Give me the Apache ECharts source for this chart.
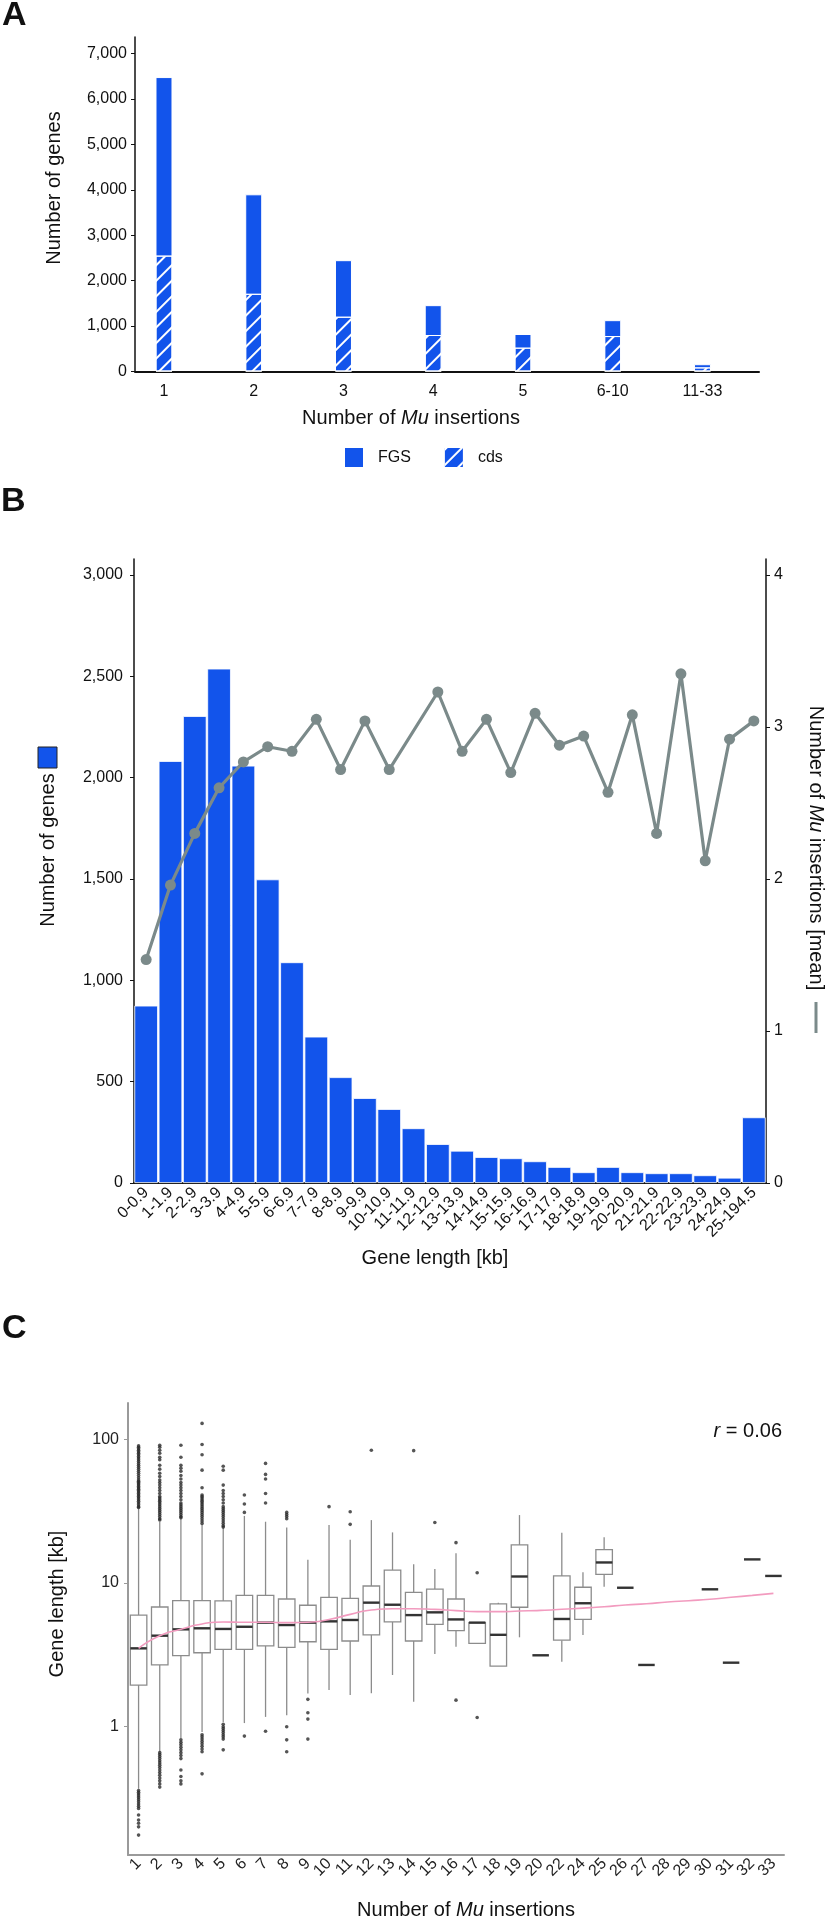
<!DOCTYPE html>
<html><head><meta charset="utf-8">
<script src="https://cdn.jsdelivr.net/npm/echarts@6/dist/echarts.min.js"></script>
<style>html,body{margin:0;padding:0;background:#fff}#c{width:826px;height:1923px}</style>
</head><body><div id="c"></div>
<script>
const FONT = 'Liberation Sans, Arial, Helvetica, sans-serif';
const BLUE = '#1254eb';
const GREY = '#7b8a8a';
const BOXGREY = '#8c8c8c';

// ---------- Panel A ----------
const aCategories = ['1', '2', '3', '4', '5', '6-10', '11-33'];
const aFGS = [6480, 3900, 2450, 1460, 825, 1130, 160];
const aCDS = [2550, 1710, 1205, 803, 524, 780, 90];
const aYTicks = [0, 1000, 2000, 3000, 4000, 5000, 6000, 7000];

// ---------- Panel B ----------
const bCategories = ['0-0.9','1-1.9','2-2.9','3-3.9','4-4.9','5-5.9','6-6.9','7-7.9','8-8.9','9-9.9',
  '10-10.9','11-11.9','12-12.9','13-13.9','14-14.9','15-15.9','16-16.9','17-17.9','18-18.9','19-19.9',
  '20-20.9','21-21.9','22-22.9','23-23.9','24-24.9','25-194.5'];
const bGenes = [875, 2082, 2304, 2538, 2059, 1498, 1089, 722, 522, 419, 365, 270, 192, 159, 128, 122, 107, 79, 53, 79, 53, 48, 48, 38, 26, 324];
const bMeanMu = [1.47, 1.96, 2.30, 2.60, 2.77, 2.87, 2.84, 3.05, 2.72, 3.04, 2.72, null, 3.23, 2.84, 3.05, 2.70, 3.09, 2.88, 2.94, 2.57, 3.08, 2.30, 3.35, 2.12, 2.92, 3.04];
const bLeftTicks = [0, 500, 1000, 1500, 2000, 2500, 3000];
const bRightTicks = [0, 1, 2, 3, 4];

// ---------- Panel C ----------
const cCategories = ['1','2','3','4','5','6','7','8','9','10','11','12','13','14','15','16','17','18','19','20',
  '22','24','25','26','27','28','29','30','31','32','33'];
const cMin    = [0.37, 0.67, 0.83, 0.92, 1.08, 1.06, 1.17, 1.20, 1.70, 1.80, 1.66, 1.71, 2.29, 1.49, 3.20, 3.60, 3.80, 2.64, 4.19, 3.14, 2.83, 4.35, 9.43, 9.27, 2.69, null, null, 9.04, 2.79, 14.6, 11.2];
const cQ1     = [1.95, 2.69, 3.12, 3.27, 3.45, 3.45, 3.65, 3.57, 3.90, 3.45, 3.95, 4.35, 5.36, 3.95, 5.16, 4.66, 3.80, 2.64, 6.78, 3.14, 4.00, 5.58, 11.5, 9.27, 2.69, null, null, 9.04, 2.79, 14.6, 11.2];
const cMedian = [3.51, 4.30, 4.76, 4.84, 4.79, 4.96, 5.30, 5.10, 5.30, 5.41, 5.53, 7.30, 7.06, 5.98, 6.25, 5.58, 5.30, 4.36, 11.1, 3.14, 5.62, 7.23, 13.9, 9.27, 2.69, null, null, 9.04, 2.79, 14.6, 11.2];
const cQ3     = [5.98, 6.81, 7.53, 7.53, 7.50, 8.20, 8.20, 7.74, 7.00, 7.95, 7.82, 9.53, 12.3, 8.61, 9.08, 7.74, 5.30, 7.15, 18.4, 3.14, 11.2, 9.34, 17.1, 9.27, 2.69, null, null, 9.04, 2.79, 14.6, 11.2];
const cMax    = [33.0, 26.7, 28.2, 25.5, 24.0, 29.3, 26.7, 24.3, 14.5, 25.3, 20.0, 27.4, 22.5, 13.5, 12.5, 16.1, 5.30, 7.30, 29.7, 3.14, 22.4, 11.9, 20.8, 9.27, 2.69, null, null, 9.04, 2.79, 14.6, 11.2];
const cOutliers = [
  [33.5,34,35,36,37,38,39,40,41,42,43,44,45,46,47,48,49,50,51,52,54,56,58,60,62,64,66,68,70,72,74,76,78,80,82,84,86,88,90,
   0.36,0.35,0.34,0.33,0.32,0.31,0.30,0.29,0.28,0.27,0.243,0.224,0.213,0.201,0.176],
  [27.5,28,29,30,31,32,33,34,35,36,37,38,39,40,42,44,46,48,50,52,55,58,62,66,72,75,80,84,88,91,
   0.66,0.64,0.62,0.60,0.58,0.56,0.54,0.52,0.50,0.48,0.46,0.44,0.42,0.40,0.38],
  [28.5,29,30,31,32,33,34,35,36,38,40,42,44,46,48,50,53,56,60,63,66,75,91,
   0.81,0.78,0.75,0.72,0.69,0.66,0.63,0.60,0.50,0.45,0.42,0.40],
  [26,27,28,29,30,31,32,33,34,35,36,37,38,39,40,41,46,61,78,92,129,
   0.88,0.85,0.82,0.79,0.76,0.73,0.70,0.67,0.47],
  [24.5,25,26,27,28,29,30,31,32,33,34,36,38,40,42,44,48,61,65,
   1.04,1.0,0.97,0.94,0.91,0.88,0.85,0.82,0.69],
  [31,35.5,41,0.86],
  [36,42,53,57,68,0.93],
  [28,29,30,31,1.0,0.81,0.67],
  [1.55,1.25,1.13,0.82],
  [34],
  [25.6,31.3],
  [84],
  [],
  [83.4],
  [26.4],
  [19.1,1.53],
  [11.8,1.16],
  [],[],[],[],[],[],[],[],[],[],[],[],[],[]
];
const cTrend = [3.51, 4.30, 4.76, 5.19, 5.36, 5.33, 5.33, 5.30, 5.33, 5.58, 6.05, 6.49, 6.62, 6.62, 6.55, 6.42, 6.32, 6.32, 6.38, 6.45, 6.56, 6.69, 6.84, 7.03, 7.17, 7.37, 7.53, 7.70, 7.95, 8.20, 8.47];
const cYTicks = [1, 10, 100];

// ---------- build ----------
const lg = v => Math.log10(v);
const cBoxData = [];
cCategories.forEach((c, i) => {
  if (cMedian[i] == null) return;
  cBoxData.push([i, lg(cMin[i]), lg(cQ1[i]), lg(cMedian[i]), lg(cQ3[i]), lg(cMax[i])]);
});
const cOutData = [];
cOutliers.forEach((arr, i) => arr.forEach(v => cOutData.push([i, lg(v)])));

function renderBox(params, api) {
  const x = api.value(0);
  const pMin = api.coord([x, api.value(1)]);
  const pQ1 = api.coord([x, api.value(2)]);
  const pMed = api.coord([x, api.value(3)]);
  const pQ3 = api.coord([x, api.value(4)]);
  const pMax = api.coord([x, api.value(5)]);
  const half = api.size([1, 0])[0] * 0.39;
  const cx = pMed[0];
  const st = { stroke: BOXGREY, lineWidth: 1.3, fill: null };
  const ch = [];
  if (pMax[1] < pQ3[1] - 0.5) ch.push({ type: 'line', shape: { x1: cx, y1: pQ3[1], x2: cx, y2: pMax[1] }, style: st });
  if (pMin[1] > pQ1[1] + 0.5) ch.push({ type: 'line', shape: { x1: cx, y1: pQ1[1], x2: cx, y2: pMin[1] }, style: st });
  if (pQ1[1] - pQ3[1] > 0.5) ch.push({ type: 'rect', shape: { x: cx - half, y: pQ3[1], width: 2 * half, height: pQ1[1] - pQ3[1] }, style: { fill: '#fff', stroke: BOXGREY, lineWidth: 1.3 } });
  ch.push({ type: 'line', shape: { x1: cx - half, y1: pMed[1], x2: cx + half, y2: pMed[1] }, style: { stroke: '#333', lineWidth: 2.4 } });
  return { type: 'group', children: ch };
}

const tick = { fontFamily: FONT, color: '#111', fontSize: 16 };
const fmtThousands = v => Number(v).toLocaleString('en-US');
const titleRich = { n: { fontFamily: FONT, fontSize: 20, color: '#111' }, i: { fontFamily: FONT, fontSize: 20, fontStyle: 'italic', color: '#111' } };

function txt(x, y, text, opts) {
  opts = opts || {};
  return {
    type: 'text', x: x, y: y, rotation: opts.rotation || 0, silent: true,
    style: Object.assign({
      text: text, fill: '#111', fontFamily: FONT, fontSize: opts.size || 20,
      fontWeight: opts.weight || 'normal',
      textAlign: opts.align || 'center', textVerticalAlign: 'middle',
      rich: titleRich
    }, opts.style || {})
  };
}

const chart = echarts.init(document.getElementById('c'), null, { renderer: 'canvas' });
const option = {
  animation: false,
  backgroundColor: '#fff',
  textStyle: { fontFamily: FONT },
  grid: [
    { left: 135, top: 37, width: 624, height: 334.5, outerBoundsMode: 'none', containLabel: false },
    { left: 134, top: 559, width: 632, height: 624, outerBoundsMode: 'none', containLabel: false },
    { left: 128, top: 1403, width: 656, height: 452, outerBoundsMode: 'none', containLabel: false }
  ],
  legend: {
    left: 340, top: 443, itemWidth: 18, itemHeight: 19, itemGap: 34, icon: 'rect',
    data: ['FGS', 'cds'],
    itemStyle: { borderWidth: 0 },
    textStyle: { fontFamily: FONT, fontSize: 16, color: '#111', padding: [0, 0, 0, 10] }
  },
  xAxis: [
    { gridIndex: 0, type: 'value', min: 0.677, max: 7.63,
      axisLine: { show: true, onZero: false, lineStyle: { color: '#111', width: 2 } },
      axisTick: { show: false }, splitLine: { show: false },
      axisLabel: Object.assign({ margin: 12, customValues: aCategories.map((c, i) => i + 1), formatter: v => aCategories[Math.round(v) - 1] }, tick) },
    { gridIndex: 1, type: 'category', data: bCategories, boundaryGap: true,
      axisLine: { show: true, onZero: false, lineStyle: { color: '#111', width: 2 } },
      axisTick: { show: false }, splitLine: { show: false },
      axisLabel: Object.assign({}, tick, { fontSize: 16, rotate: 45, interval: 0, margin: 7 }) },
    { gridIndex: 2, type: 'category', data: cCategories, boundaryGap: true,
      axisLine: { show: true, onZero: false, lineStyle: { color: '#9a9a9a', width: 2 } },
      axisTick: { show: false }, splitLine: { show: false },
      axisLabel: Object.assign({}, tick, { fontSize: 16, rotate: 45, interval: 0, margin: 6, color: '#222' }) }
  ],
  yAxis: [
    { gridIndex: 0, type: 'value', min: 0, max: 7362,
      axisLine: { show: true, lineStyle: { color: '#111', width: 1.5 } },
      axisTick: { show: true, length: 4, customValues: aYTicks, lineStyle: { color: '#111' } },
      splitLine: { show: false },
      axisLabel: Object.assign({ margin: 8, customValues: aYTicks, formatter: fmtThousands }, tick) },
    { gridIndex: 1, type: 'value', min: 0, max: 3079, position: 'left',
      axisLine: { show: true, lineStyle: { color: '#111', width: 1.5 } },
      axisTick: { show: true, length: 4, customValues: bLeftTicks, lineStyle: { color: '#111' } },
      splitLine: { show: false },
      axisLabel: Object.assign({ margin: 11, customValues: bLeftTicks, formatter: fmtThousands }, tick) },
    { gridIndex: 1, type: 'value', min: 0, max: 4.105, position: 'right',
      axisLine: { show: true, lineStyle: { color: '#111', width: 1.5 } },
      axisTick: { show: true, length: 4, customValues: bRightTicks, lineStyle: { color: '#111' } },
      splitLine: { show: false },
      axisLabel: Object.assign({ margin: 8, customValues: bRightTicks }, tick) },
    { gridIndex: 2, type: 'value', min: -0.8928, max: 2.2527,
      axisLine: { show: true, lineStyle: { color: '#9a9a9a', width: 2 } },
      axisTick: { show: true, length: 4, customValues: cYTicks.map(lg), lineStyle: { color: '#9a9a9a' } },
      splitLine: { show: false },
      axisLabel: Object.assign({ margin: 9, customValues: cYTicks.map(lg), formatter: v => String(Math.round(Math.pow(10, v))) }, tick, { color: '#222' }) }
  ],
  series: [
    { name: 'FGS', type: 'bar', xAxisIndex: 0, yAxisIndex: 0, barWidth: 17, barGap: '-100%',
      data: aFGS.map((v, i) => [i + 1, v]),
      itemStyle: { color: BLUE, borderColor: '#fff', borderWidth: 1 } },
    { name: 'cds', type: 'bar', xAxisIndex: 0, yAxisIndex: 0, barWidth: 17, barGap: '-100%',
      data: aCDS.map((v, i) => [i + 1, v]),
      itemStyle: { color: BLUE, borderColor: '#fff', borderWidth: 1,
        decal: { symbol: 'rect', symbolSize: 1, dashArrayX: [1, 0], dashArrayY: [2, 9], rotation: -Math.PI / 4, color: '#ffffff' } } },
    { type: 'bar', xAxisIndex: 1, yAxisIndex: 1, data: bGenes, barCategoryGap: '3%',
      itemStyle: { color: BLUE, borderColor: '#fff', borderWidth: 0.8 } },
    { type: 'line', xAxisIndex: 1, yAxisIndex: 2, data: bMeanMu, connectNulls: true,
      symbol: 'circle', symbolSize: 11, z: 5,
      lineStyle: { color: GREY, width: 3.2 }, itemStyle: { color: GREY } },
    { type: 'custom', xAxisIndex: 2, yAxisIndex: 3, data: cBoxData, renderItem: renderBox,
      encode: { x: 0, y: [1, 2, 3, 4, 5] }, z: 2 },
    { type: 'line', xAxisIndex: 2, yAxisIndex: 3, data: cTrend.map(lg), smooth: 0.6, showSymbol: false, symbol: 'none',
      lineStyle: { color: '#f29bbf', width: 1.6 }, z: 4 },
    { type: 'scatter', xAxisIndex: 2, yAxisIndex: 3, data: cOutData, symbolSize: 3.6,
      itemStyle: { color: '#2a2a2a' }, z: 5 }
  ],
  graphic: [
    txt(2, 16, 'A', { size: 34, weight: 'bold', align: 'left' }),
    txt(1, 502, 'B', { size: 34, weight: 'bold', align: 'left' }),
    txt(2, 1329, 'C', { size: 34, weight: 'bold', align: 'left' }),
    txt(54, 188, 'Number of genes', { rotation: Math.PI / 2 }),
    txt(411, 418, '{n|Number of }{i|Mu}{n| insertions}'),
    txt(48, 850, 'Number of genes', { rotation: Math.PI / 2 }),
    { type: 'rect', silent: true, shape: { x: 38, y: 747, width: 19, height: 21 }, style: { fill: BLUE, stroke: '#222', lineWidth: 1 } },
    txt(816, 848, '{n|Number of }{i|Mu}{n| insertions [mean]}', { rotation: -Math.PI / 2 }),
    { type: 'line', silent: true, shape: { x1: 816, y1: 1002, x2: 816, y2: 1033 }, style: { stroke: GREY, lineWidth: 3 } },
    txt(435, 1258, 'Gene length [kb]'),
    txt(57, 1604, 'Gene length [kb]', { rotation: Math.PI / 2 }),
    txt(466, 1910, '{n|Number of }{i|Mu}{n| insertions}'),
    txt(782, 1431, '{i|r}{n| = 0.06}', { align: 'right' })
  ]
};
chart.setOption(option);
</script>
</body></html>
